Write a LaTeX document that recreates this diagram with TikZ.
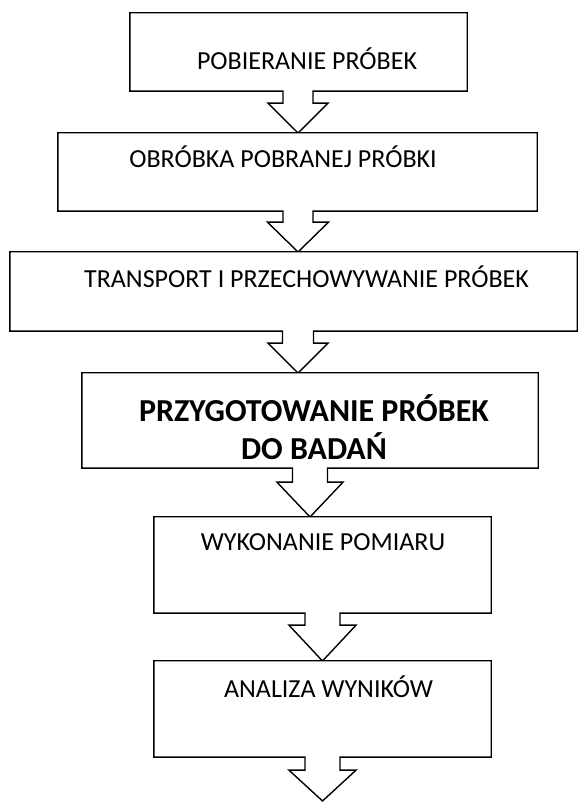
\documentclass[tikz,border=0pt]{standalone}
\usepackage{fontspec}
\setmainfont{Carlito}
\usetikzlibrary{calc}

\tikzset{
  callout/.style={draw=black, line width=1.4pt, fill=white, line join=miter},
  boxarea/.style={inner sep=0pt, draw=none},
  lbl/.style={font=\fontsize{26}{30}\selectfont, anchor=base, inner sep=0pt},
  lblbold/.style={font=\fontsize{32}{38}\selectfont\bfseries, align=center, inner sep=0pt},
}

\begin{document}
\begin{tikzpicture}[x=1pt,y=1pt]
  \useasboundingbox (0,0) rectangle (578,802);

  % box areas
  \node[boxarea, minimum width=337, minimum height=78] (b1) at (298.5,750) {};
  \node[boxarea, minimum width=479, minimum height=78] (b2) at (297.5,630) {};
  \node[boxarea, minimum width=567, minimum height=79] (b3) at (293.5,510.5) {};
  \node[boxarea, minimum width=456, minimum height=95] (b4) at (310,381.5) {};
  \node[boxarea, minimum width=337, minimum height=96] (b5) at (322.5,237) {};
  \node[boxarea, minimum width=337, minimum height=96] (b6) at (322.5,93) {};

  % arrow tips
  \coordinate (t1) at (298,669);
  \coordinate (t2) at (298,550);
  \coordinate (t3) at (298,429);
  \coordinate (t4) at (310,285);
  \coordinate (t5) at (322.5,141);
  \coordinate (t6) at (322.5,1);

  % box with arrow below
  \foreach \b/\t/\s/\l/\h in {b1/t1/15/12/30, b2/t2/15/11/30.5, b3/t3/15.5/12/30,
                              b4/t4/17.5/14/33, b5/t5/17.5/12/33.5, b6/t6/17.5/13/33.5}
    \draw[callout] (\b.south west) |- (\b.north east) |- ($(\b.south -| \t)+(\s,0)$)
      -- ++(0,-\l) -- ($(\b.south -| \t)+(\h,-\l)$) -- (\t)
      -- ($(\b.south -| \t)+(-\h,-\l)$) -- ++({\h-\s},0) -- ++(0,\l) -- cycle;

  % texts
  \node[lbl] (l1) at (307,732.5) {POBIERANIE PRÓBEK};
  \node[lbl] (l2) at (283,634.5) {OBRÓBKA POBRANEJ PRÓBKI};
  \node[lbl] (l3) at (306.5,514.5) {TRANSPORT I PRZECHOWYWANIE PRÓBEK};
  \node[lblbold] (l4) at (314,375) {PRZYGOTOWANIE PRÓBEK\\DO BADAŃ};
  \node[lbl] (l5) at (323,251.5) {WYKONANIE POMIARU};
  \node[lbl] (l6) at (328.5,104.5) {ANALIZA WYNIKÓW};
\end{tikzpicture}
\end{document}
